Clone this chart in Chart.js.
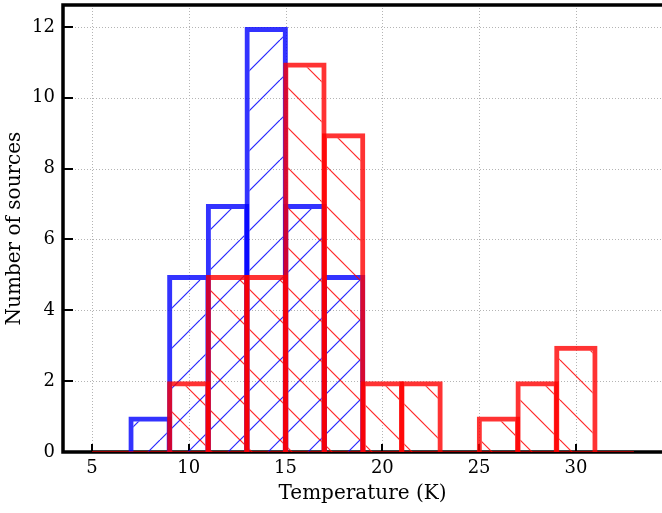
<!DOCTYPE html>
<html>
<head>
<meta charset="utf-8">
<script src="https://cdn.jsdelivr.net/npm/chart.js@4.4.0/dist/chart.umd.min.js"></script>
<style>
  html, body { margin: 0; padding: 0; background: #fff; }
  #wrap { width: 662px; height: 513px; }
</style>
</head>
<body>
<div id="wrap"><canvas id="chart" width="662" height="513"></canvas></div>
<script>
// histogram bins: width 2 K, from 5 to 33 K
const binCenters = [6, 8, 10, 12, 14, 16, 18, 20, 22, 24, 26, 28, 30, 32];
const blueCounts = [0, 1, 5, 7, 12, 7, 5, 0, 0, 0, 0, 0, 0, 0];
const redCounts = [0, 0, 2, 5, 5, 11, 9, 2, 2, 0, 1, 2, 3, 0];
const binRange = [5, 33];
const xTicks = [5, 10, 15, 20, 25, 30];
const yTicks = [0, 2, 4, 6, 8, 10, 12];

const FONT = "'DejaVu Serif', 'Liberation Serif', serif";

const hatch = (color, dir) => {
  const s = 40;
  const c = document.createElement("canvas");
  c.width = s;
  c.height = s;
  const g = c.getContext("2d");
  g.strokeStyle = color;
  g.lineWidth = 1.2;
  for (const k of [-s, 0, s]) {
    g.beginPath();
    if (dir === "/") {
      g.moveTo(k, s);
      g.lineTo(k + s, 0);
    } else {
      g.moveTo(k, 0);
      g.lineTo(k + s, s);
    }
    g.stroke();
  }
  return g.createPattern(c, "repeat");
};

// grid, spines and inward ticks, matplotlib style
const framePlugin = {
  id: "frame",
  beforeDatasetsDraw(chart) {
    const { ctx, chartArea: a, scales } = chart;
    const x = scales.x;
    const y = scales.y;
    const seg = (x1, y1, x2, y2) => {
      ctx.beginPath();
      ctx.moveTo(x1, y1);
      ctx.lineTo(x2, y2);
      ctx.stroke();
    };
    ctx.save();
    ctx.strokeStyle = "#b4b4b4";
    ctx.lineWidth = 1;
    ctx.setLineDash([1, 2]);
    xTicks.forEach((v) => {
      const px = Math.round(x.getPixelForValue(v)) + 0.5;
      seg(px, a.top, px, a.bottom);
    });
    yTicks.forEach((v) => {
      const py = Math.round(y.getPixelForValue(v)) + 0.5;
      seg(a.left, py, a.right, py);
    });
    ctx.setLineDash([]);

    ctx.strokeStyle = "#000";
    ctx.lineWidth = 2;
    xTicks.forEach((v) => {
      const px = Math.round(x.getPixelForValue(v));
      seg(px, a.bottom, px, a.bottom - 8);
    });
    yTicks.forEach((v) => {
      const py = Math.round(y.getPixelForValue(v));
      seg(a.left, py, a.left + 10, py);
    });

    ctx.lineWidth = 3.5;
    ctx.beginPath();
    ctx.moveTo(a.right + 5, a.top);
    ctx.lineTo(a.left, a.top);
    ctx.lineTo(a.left, a.bottom);
    ctx.lineTo(a.right + 5, a.bottom);
    ctx.stroke();
    ctx.restore();
  },
};

const ctx = document.getElementById("chart");
const toPoints = (counts) => binCenters.map((c, i) => ({ x: c, y: counts[i] }));

new Chart(ctx, {
  type: "bar",
  data: {
    datasets: [
      {
        type: "line",
        data: binRange.map((v) => ({ x: v, y: 0 })),
        borderColor: "rgba(255,0,0,0.6)",
        borderWidth: 2,
        pointRadius: 0,
        order: 0,
      },
      {
        label: "red",
        data: toPoints(redCounts),
        backgroundColor: hatch("rgba(255,0,0,0.85)", "\\"),
        borderColor: "rgba(255,0,0,0.8)",
        borderWidth: 5,
        borderSkipped: "start",
        barPercentage: 1.12,
        categoryPercentage: 1,
        grouped: false,
        order: 1,
      },
      {
        label: "blue",
        data: toPoints(blueCounts),
        backgroundColor: hatch("rgba(0,0,255,0.85)", "/"),
        borderColor: "rgba(0,0,255,0.8)",
        borderWidth: 5,
        borderSkipped: "start",
        barPercentage: 1.12,
        categoryPercentage: 1,
        grouped: false,
        order: 2,
      },
    ],
  },
  options: {
    responsive: false,
    animation: false,
    devicePixelRatio: 1,
    layout: { padding: { top: 5, right: 0, left: 0, bottom: 0 } },
    plugins: { legend: { display: false }, tooltip: { enabled: false } },
    scales: {
      x: {
        type: "linear",
        offset: false,
        min: 3.5,
        max: 34.45,
        grid: { display: false, drawTicks: false, offset: false },
        border: { display: false },
        afterBuildTicks: (s) => { s.ticks = xTicks.map((v) => ({ value: v })); },
        afterFit: (s) => { s.height = 61; s.paddingLeft = 0; s.paddingRight = 0; },
        ticks: { color: "#000", padding: 6, font: { family: FONT, size: 18 }, maxRotation: 0 },
        title: {
          display: true,
          text: "Temperature (K)",
          color: "#000",
          font: { family: FONT, size: 20 },
          padding: { top: 0, bottom: 7 },
        },
      },
      y: {
        min: 0,
        max: 12.62,
        grid: { display: false, drawTicks: false },
        border: { display: false },
        afterBuildTicks: (s) => { s.ticks = yTicks.map((v) => ({ value: v })); },
        afterFit: (s) => { s.width = 63; s.paddingTop = 0; s.paddingBottom = 0; },
        ticks: { color: "#000", padding: 8, font: { family: FONT, size: 18 } },
        title: {
          display: true,
          text: "Number of sources",
          color: "#000",
          font: { family: FONT, size: 20 },
          padding: { top: 3, bottom: 0 },
        },
      },
    },
  },
  plugins: [framePlugin],
});
</script>
</body>
</html>
